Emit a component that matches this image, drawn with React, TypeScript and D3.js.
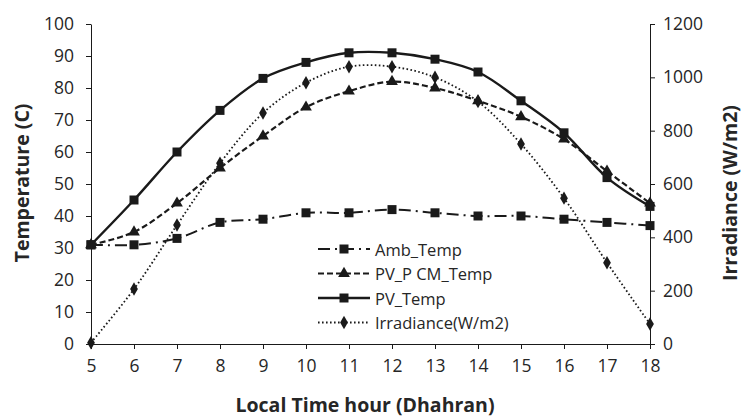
import React, { useEffect, useRef } from 'react';
import * as d3 from 'd3';

const hours = [5, 6, 7, 8, 9, 10, 11, 12, 13, 14, 15, 16, 17, 18];
const ambTemp = [31, 31, 33, 38, 39, 41, 41, 42, 41, 40, 40, 39, 38, 37];
const pvPcmTemp = [31, 35, 44, 55, 65, 74, 79, 82, 80, 76, 71, 64, 54, 44];
const pvTemp = [31, 45, 60, 73, 83, 88, 91, 91, 89, 85, 76, 66, 52, 43];
const irradiance = [5, 206, 446, 678, 866, 980, 1040, 1040, 1000, 909, 750, 547, 305, 75];

const tempTicks = [0, 10, 20, 30, 40, 50, 60, 70, 80, 90, 100];
const irrTicks = [0, 200, 400, 600, 800, 1000, 1200];

const W = 742;
const H = 417;
const margin = { top: 24, right: 92, bottom: 73, left: 91 };
const FONT = '"Open Sans", "Liberation Sans", sans-serif';
const INK = '#1a1a1a';

const App = () => {
  const svgRef = useRef(null);

  useEffect(() => {
    const svg = d3.select(svgRef.current);
    svg.selectAll('*').remove();

    const x0 = margin.left;
    const x1 = W - margin.right;
    const y0 = H - margin.bottom;
    const y1 = margin.top;

    const x = d3.scaleLinear().domain([5, 18]).range([x0, x1]);
    const yL = d3.scaleLinear().domain([0, 100]).range([y0, y1]);
    const yR = d3.scaleLinear().domain([0, 1200]).range([y0, y1]);

    // ejes
    const axisStyle = (g) => {
      g.select('.domain').attr('stroke', INK);
      g.selectAll('.tick line').attr('stroke', INK);
      g.selectAll('.tick text')
        .attr('fill', '#262626')
        .style('font-family', FONT)
        .style('font-size', '17.5px');
    };

    svg.append('g')
      .attr('transform', `translate(${x0},0)`)
      .call(d3.axisLeft(yL).tickValues(tempTicks).tickSize(5).tickSizeOuter(0).tickPadding(12))
      .call(axisStyle);

    svg.append('g')
      .attr('transform', `translate(${x1},0)`)
      .call(d3.axisRight(yR).tickValues(irrTicks).tickFormat(d3.format('d')).tickSize(5).tickSizeOuter(0).tickPadding(8))
      .call(axisStyle);

    svg.append('g')
      .attr('transform', `translate(0,${y0})`)
      .call(d3.axisBottom(x).tickValues(hours).tickSize(5).tickSizeOuter(0).tickPadding(11))
      .call(axisStyle);

    // titulos
    const title = (t, tf) => svg.append('text')
      .attr('transform', tf)
      .attr('text-anchor', 'middle')
      .attr('dominant-baseline', 'central')
      .attr('fill', '#262626')
      .style('font-family', FONT)
      .style('font-weight', 'bold')
      .style('font-size', '19.5px')
      .text(t);

    title('Temperature (C)', 'translate(21,183) rotate(-90)');
    title('Irradiance (W/m2)', 'translate(729,193) rotate(-90)');
    title('Local Time hour (Dhahran)', 'translate(365,404)');

    const square = d3.symbol().type(d3.symbolSquare).size(81);
    const triangle = d3.symbol().type(d3.symbolTriangle).size(60);
    const diamond = d3.symbol().type(d3.symbolDiamond).size(52);

    const series = [
      { name: 'Amb_Temp', values: ambTemp, y: yL, dash: '12,5,2,5', width: 2, symbol: square },
      { name: 'PV_P CM_Temp', values: pvPcmTemp, y: yL, dash: '6,3', width: 2.2, symbol: triangle },
      { name: 'PV_Temp', values: pvTemp, y: yL, dash: null, width: 2.4, symbol: square },
      { name: 'Irradiance(W/m2)', values: irradiance, y: yR, dash: '1.6,2.4', width: 1.8, symbol: diamond }
    ];

    const plot = svg.append('g');

    series.forEach((s) => {
      const line = d3.line()
        .x((d, i) => x(hours[i]))
        .y((d) => s.y(d))
        .curve(d3.curveCatmullRom.alpha(0.5));

      plot.append('path')
        .datum(s.values)
        .attr('fill', 'none')
        .attr('stroke', INK)
        .attr('stroke-width', s.width)
        .attr('stroke-dasharray', s.dash)
        .attr('d', line);

      plot.selectAll(null)
        .data(s.values)
        .enter()
        .append('path')
        .attr('d', s.symbol)
        .attr('fill', INK)
        .attr('transform', (d, i) => `translate(${x(hours[i])},${s.y(d)})`);
    });

    // leyenda
    const legend = svg.append('g').attr('transform', 'translate(318,249)');
    series.forEach((s, i) => {
      const row = legend.append('g').attr('transform', `translate(0,${i * 24.5})`);
      row.append('line')
        .attr('x1', 0).attr('x2', 52)
        .attr('stroke', INK)
        .attr('stroke-width', s.width)
        .attr('stroke-dasharray', s.dash);
      row.append('path')
        .attr('d', s.symbol)
        .attr('fill', INK)
        .attr('transform', 'translate(26,0)');
      row.append('text')
        .attr('x', 57)
        .attr('dominant-baseline', 'central')
        .attr('fill', '#262626')
        .style('font-family', FONT)
        .style('font-size', '16.5px')
        .text(s.name);
    });
  }, []);

  return (
    <div style={{ position: 'absolute', left: 0, top: 0 }}>
      <svg ref={svgRef} width={W} height={H} style={{ display: 'block', background: '#fff' }} />
    </div>
  );
};

export default App;
